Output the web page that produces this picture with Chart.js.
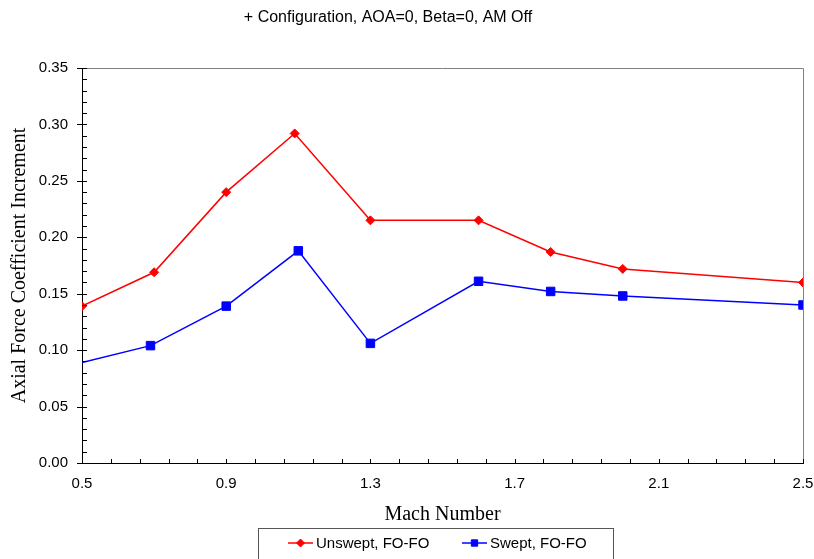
<!DOCTYPE html>
<html>
<head>
<meta charset="utf-8">
<script src="https://cdn.jsdelivr.net/npm/chart.js@4.4.1/dist/chart.umd.min.js"></script>
<style>
  html, body { margin: 0; padding: 0; background: #fff; }
  #wrap { width: 814px; height: 559px; position: relative; }
</style>
</head>
<body>
<div id="wrap"><canvas id="myChart"></canvas></div>
<script>
// data
const unsweptMach = [0.5, 0.7, 0.9, 1.09, 1.3, 1.6, 1.8, 2.0, 2.5];
const unsweptAxial = [0.139, 0.169, 0.240, 0.292, 0.215, 0.215, 0.187, 0.172, 0.160];

const sweptMach = [0.5, 0.69, 0.9, 1.1, 1.3, 1.6, 1.8, 2.0, 2.5];
const sweptAxial = [0.089, 0.104, 0.139, 0.188, 0.106, 0.161, 0.152, 0.148, 0.140];

const xTicks = [0.5, 0.9, 1.3, 1.7, 2.1, 2.5];
const yTicks = [0, 0.05, 0.1, 0.15, 0.2, 0.25, 0.3, 0.35];

const seriesLabels = ["Unswept, FO-FO", "Swept, FO-FO"];
const chartTitle = "+ Configuration, AOA=0, Beta=0, AM Off";

const toPoints = (xs, ys) => xs.map((x, i) => ({ x: x, y: ys[i] }));

// title, inside ticks, top/right frame and the boxed legend
const framePlugin = {
  id: "frame",
  afterDraw(chart) {
    const ctx = chart.ctx;
    const a = chart.chartArea;
    const xs = chart.scales.x;
    const ys = chart.scales.y;
    ctx.save();

    // title (sits a bit left of centre in the original)
    ctx.fillStyle = "#000";
    ctx.font = "16px 'Liberation Sans', Arial, sans-serif";
    ctx.textAlign = "center";
    ctx.textBaseline = "middle";
    ctx.fillText(chartTitle, 388, 18);

    // top + right border (gray)
    ctx.strokeStyle = "#808080";
    ctx.lineWidth = 1;
    ctx.beginPath();
    ctx.moveTo(a.left, a.top + 0.5);
    ctx.lineTo(a.right + 0.5, a.top + 0.5);
    ctx.lineTo(a.right + 0.5, a.bottom);
    ctx.stroke();

    ctx.strokeStyle = "#000";
    ctx.beginPath();
    // y ticks every 0.01, major every 0.05
    for (let i = 0; i <= 35; i++) {
      const py = Math.round(ys.getPixelForValue(i / 100)) + 0.5;
      const major = i % 5 === 0;
      ctx.moveTo(a.left - (major ? 5 : 0), py);
      ctx.lineTo(a.left + 5, py);
    }
    // x ticks every 0.08
    for (let i = 0; i <= 25; i++) {
      const px = Math.round(xs.getPixelForValue(0.5 + i * 0.08)) + 0.5;
      ctx.moveTo(px, a.bottom);
      ctx.lineTo(px, a.bottom - 4);
    }
    ctx.stroke();

    // legend
    const box = { left: 258.5, top: 528.5, right: 613.5, bottom: 575 };
    ctx.strokeStyle = "#555";
    ctx.strokeRect(box.left, box.top, box.right - box.left, box.bottom - box.top);
    const ly = 543;
    const items = [{ ds: 0, x: 288, r: 4 }, { ds: 1, x: 462, r: 4.5 }];
    ctx.font = "15px 'Liberation Sans', Arial, sans-serif";
    ctx.textAlign = "left";
    items.forEach(it => {
      const ds = chart.data.datasets[it.ds];
      ctx.strokeStyle = ds.borderColor;
      ctx.fillStyle = ds.backgroundColor;
      ctx.lineWidth = 1.5;
      ctx.beginPath();
      ctx.moveTo(it.x, ly);
      ctx.lineTo(it.x + 25, ly);
      ctx.stroke();
      ctx.lineWidth = 1;
      Chart.helpers.drawPoint(ctx, {
        pointStyle: ds.pointStyle,
        radius: it.r,
        borderWidth: 1
      }, it.x + 12.5, ly);
      ctx.fillStyle = "#000";
      ctx.fillText(ds.label, it.x + 28, ly + 1);
    });
    ctx.restore();
  }
};

const ctx = document.getElementById("myChart");
const myChart = new Chart(ctx, {
  type: "scatter",
  data: {
    datasets: [
      {
        label: seriesLabels[0],
        data: toPoints(unsweptMach, unsweptAxial),
        showLine: true,
        borderColor: "#ff0000",
        backgroundColor: "#ff0000",
        borderWidth: 1.5,
        pointStyle: "rectRot",
        pointRadius: 4.5,
        pointBorderWidth: 1
      },
      {
        label: seriesLabels[1],
        data: toPoints(sweptMach, sweptAxial),
        showLine: true,
        borderColor: "#0000ff",
        backgroundColor: "#0000ff",
        borderWidth: 1.5,
        pointStyle: "rect",
        pointRadius: sweptMach.map((m, i) => (i === 0 ? 0 : 6)),
        pointBorderWidth: 1
      }
    ]
  },
  plugins: [framePlugin],
  options: {
    responsive: true,
    maintainAspectRatio: false,
    animation: false,
    events: [],
    layout: { padding: { left: 0, right: 11, top: 68, bottom: 32 } },
    plugins: {
      legend: { display: false },
      tooltip: { enabled: false },
      title: { display: false }
    },
    scales: {
      x: {
        type: "linear",
        min: 0.5,
        max: 2.5,
        afterBuildTicks: (scale) => { scale.ticks = xTicks.map(v => ({ value: v })); },
        afterFit: (scale) => {
          scale.height = 64;
          scale.paddingLeft = 0;
          scale.paddingRight = 0;
        },
        grid: { display: false, drawTicks: false },
        border: { display: true, color: "#000", width: 1 },
        ticks: {
          color: "#000",
          padding: 12,
          maxRotation: 0,
          font: { family: "'Liberation Sans', Arial, sans-serif", size: 15 },
          callback: (v) => v.toFixed(1)
        },
        title: {
          display: true,
          text: "Mach Number",
          color: "#000",
          font: { family: "'Liberation Serif', 'Times New Roman', serif", size: 20 },
          padding: { top: 0, bottom: 0 }
        }
      },
      y: {
        min: 0,
        max: 0.35,
        afterBuildTicks: (scale) => { scale.ticks = yTicks.map(v => ({ value: v })); },
        afterFit: (scale) => { scale.width = 82; },
        grid: { display: false, drawTicks: false },
        border: { display: true, color: "#000", width: 1 },
        ticks: {
          color: "#000",
          padding: 14,
          font: { family: "'Liberation Sans', Arial, sans-serif", size: 15 },
          callback: (v) => v.toFixed(2)
        },
        title: {
          display: true,
          text: "Axial Force Coefficient Increment",
          color: "#000",
          font: { family: "'Liberation Serif', 'Times New Roman', serif", size: 20 },
          padding: { top: 8, bottom: 0 }
        }
      }
    }
  }
});
</script>
</body>
</html>
